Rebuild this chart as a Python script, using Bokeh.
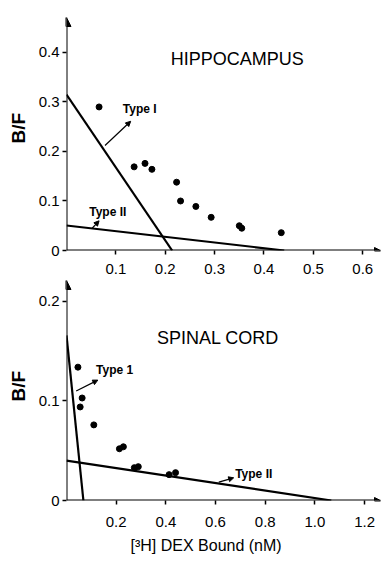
import math
from bokeh.plotting import figure
from bokeh.layouts import column
from bokeh.models import Label, Arrow, NormalHead, FixedTicker, Range1d, Title
from bokeh.embed import file_html
from bokeh.resources import INLINE

FONT = "Liberation Sans"

# ---------------- data: hippocampus ----------------
hip_x = [0.066, 0.137, 0.159, 0.173, 0.223, 0.231, 0.262, 0.293, 0.350, 0.355, 0.435]
hip_y = [0.290, 0.169, 0.176, 0.164, 0.138, 0.100, 0.089, 0.067, 0.050, 0.045, 0.036]
hip_t1_x = [0.0, 0.214]
hip_t1_y = [0.315, 0.0]
hip_t2_x = [0.0, 0.441]
hip_t2_y = [0.0505, 0.0]
hip_xticks = [0.1, 0.2, 0.3, 0.4, 0.5, 0.6]
hip_xlabels = ["0.1", "0.2", "0.3", "0.4", "0.5", "0.6"]
hip_yticks = [0.0, 0.1, 0.2, 0.3, 0.4]
hip_ylabels = ["0", "0.1", "0.2", "0.3", "0.4"]

# ---------------- data: spinal cord ----------------
sc_x = [0.046, 0.063, 0.055, 0.110, 0.213, 0.229, 0.273, 0.289, 0.413, 0.439]
sc_y = [0.134, 0.103, 0.094, 0.076, 0.052, 0.054, 0.033, 0.034, 0.026, 0.028]
sc_t1_x = [0.0, 0.068]
sc_t1_y = [0.166, 0.0]
sc_t2_x = [0.0, 1.066]
sc_t2_y = [0.040, 0.0]
sc_xticks = [0.2, 0.4, 0.6, 0.8, 1.0, 1.2]
sc_xlabels = ["0.2", "0.4", "0.6", "0.8", "1.0", "1.2"]
sc_yticks = [0.0, 0.1, 0.2]
sc_ylabels = ["0", "0.1", "0.2"]


def style_axes(p, xticks, xlabels, yticks, ylabels, xstandoff):
    p.xaxis.ticker = FixedTicker(ticks=xticks)
    p.yaxis.ticker = FixedTicker(ticks=yticks)
    p.xaxis.major_label_overrides = dict(zip(xticks, xlabels))
    p.yaxis.major_label_overrides = dict(zip(yticks, ylabels))
    for ax in (p.xaxis, p.yaxis):
        ax.axis_line_color = None
        ax.major_tick_in = 0
        ax.major_tick_out = 4
        ax.major_tick_line_width = 1.5
        ax.major_tick_line_color = "black"
        ax.minor_tick_line_color = None
        ax.major_label_text_font = FONT
        ax.major_label_text_font_size = "15px"
        ax.major_label_text_color = "black"
    p.xaxis.major_label_standoff = xstandoff
    p.yaxis.major_label_standoff = 3
    p.xgrid.visible = False
    p.ygrid.visible = False
    p.outline_line_color = None
    xr, yr = p.x_range, p.y_range
    p.add_layout(Arrow(x_start=0, y_start=0, x_end=0, y_end=yr.end,
                       line_width=2, line_color="black",
                       end=NormalHead(size=9, fill_color="black", line_color="black")))
    p.add_layout(Arrow(x_start=0, y_start=0, x_end=xr.end, y_end=0,
                       line_width=2, line_color="black",
                       end=NormalHead(size=6, fill_color="black", line_color="black")))


def type_label(p, text, x, y, ax0, ay0, ax1, ay1):
    p.add_layout(Label(x=x, y=y, text=text, text_font=FONT, text_font_size="12px",
                       text_color="black", text_font_style="bold",
                       text_align="left", text_baseline="middle"))
    p.add_layout(Arrow(x_start=ax0, y_start=ay0, x_end=ax1, y_end=ay1,
                       line_width=1.2, line_color="black",
                       end=NormalHead(size=5, fill_color="black", line_color="black")))


def ylabel(p, offset):
    p.add_layout(Title(text="B/F", align="left", offset=offset, vertical_align="middle",
                       standoff=12, text_font=FONT, text_font_size="19px",
                       text_font_style="bold", text_color="black"), "left")


# ---------------- top panel ----------------
p1 = figure(width=382, height=280, output_backend="svg", toolbar_location=None,
            x_range=Range1d(0, 0.636), y_range=Range1d(0, 0.4707),
            min_border_left=65, min_border_right=2, min_border_top=17, min_border_bottom=30)
style_axes(p1, hip_xticks, hip_xlabels, hip_yticks, hip_ylabels, 9)
p1.line(hip_t1_x, hip_t1_y, line_width=2.2, color="black")
p1.line(hip_t2_x, hip_t2_y, line_width=2.2, color="black")
p1.scatter(hip_x, hip_y, size=6, color="black")
p1.add_layout(Label(x=0.346, y=0.386, text="HIPPOCAMPUS", text_font=FONT, text_font_size="18px",
                    text_color="black", text_align="center", text_baseline="middle"))
ylabel(p1, 107)
type_label(p1, "Type I", 0.114, 0.285, 0.078, 0.212, 0.130, 0.261)
type_label(p1, "Type II", 0.046, 0.077, 0.052, 0.045, 0.066, 0.060)

# ---------------- bottom panel ----------------
p2 = figure(width=382, height=281, output_backend="svg", toolbar_location=None,
            x_range=Range1d(0, 1.264), y_range=Range1d(0, 0.2211),
            min_border_left=64, min_border_right=2, min_border_top=0, min_border_bottom=61)
style_axes(p2, sc_xticks, sc_xlabels, sc_yticks, sc_ylabels, 12)
p2.line(sc_t1_x, sc_t1_y, line_width=2.2, color="black")
p2.line(sc_t2_x, sc_t2_y, line_width=2.2, color="black")
p2.scatter(sc_x, sc_y, size=6, color="black")
p2.add_layout(Label(x=0.62, y=0.163, text="SPINAL  CORD", text_font=FONT, text_font_size="18px",
                    text_color="black", text_align="center", text_baseline="middle"))
ylabel(p2, 99)
p2.add_layout(Title(text="[³H] DEX Bound (nM)", align="left", offset=64, vertical_align="middle",
                    standoff=13, text_font=FONT, text_font_size="16px",
                    text_font_style="normal", text_color="black"), "below")
type_label(p2, "Type 1", 0.119, 0.131, 0.039, 0.110, 0.126, 0.121)
type_label(p2, "Type II", 0.679, 0.027, 0.613, 0.0184, 0.673, 0.0228)

layout = column(p1, p2)
open("out.html", "w").write(file_html(layout, INLINE))
